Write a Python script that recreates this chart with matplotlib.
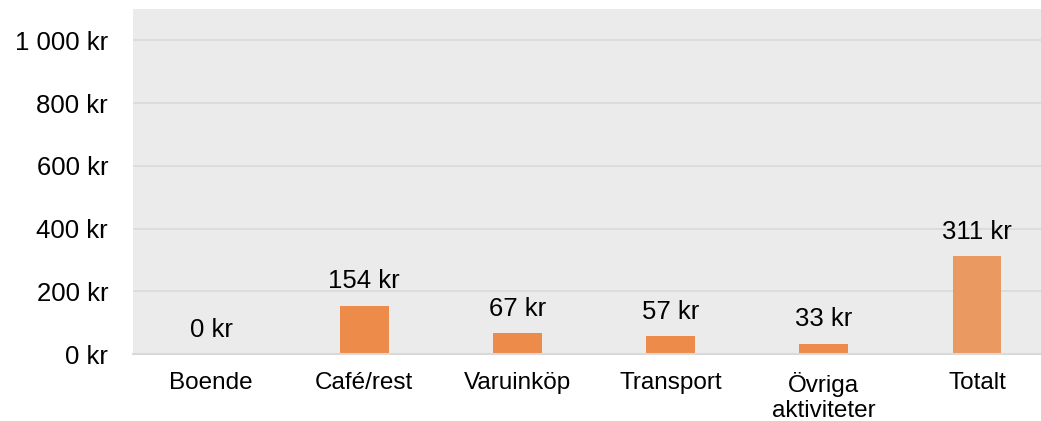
import matplotlib
matplotlib.use("Agg")
import matplotlib.pyplot as plt

# Kostnad per kategori (kr)
kategorier = ["Boende", "Café/rest", "Varuinköp", "Transport", "Övriga\naktiviteter", "Totalt"]
belopp = [0, 154, 67, 57, 33, 311]
yticks = [0, 200, 400, 600, 800, 1000]


def kr(v):
    # svensk tusentalsavgränsare med mellanslag
    return f"{v:,.0f}".replace(",", " ") + " kr"


plt.rcParams["font.family"] = ["Liberation Sans", "DejaVu Sans"]

fig = plt.figure(figsize=(10.41, 4.21), dpi=100)
ax = fig.add_axes([0.1278, 0.1591, 0.8722, 0.8195])
ax.set_facecolor("#EBEBEB")

x = list(range(len(kategorier)))
farger = ["#EC8B4A"] * (len(kategorier) - 1) + ["#EA9960"]
ax.bar(x, belopp, width=0.318, color=farger, zorder=3)

for xi, v in zip(x, belopp):
    ax.annotate(kr(v), (xi, v), xytext=(0, 9), textcoords="offset points",
                ha="center", va="bottom", fontsize=18.5, color="#000000")

ax.set_xlim(-0.509, 5.418)
ax.set_ylim(0, 1100)
ax.set_yticks(yticks)
ax.set_yticklabels([kr(v) for v in yticks], fontsize=18.5)
ax.set_xticks(x)
ax.set_xticklabels(kategorier, fontsize=17.5, linespacing=1.2)
ax.tick_params(axis="y", length=0, pad=18)
ax.tick_params(axis="x", length=0, pad=13)

ax.grid(axis="y", color="#D9D9D9", linewidth=1.2, zorder=1)
for s in ax.spines.values():
    s.set_visible(False)
ax.axhline(0, color="#D9D9D9", linewidth=1.5, zorder=4, clip_on=False)

fig.savefig("out.png", dpi=100)
